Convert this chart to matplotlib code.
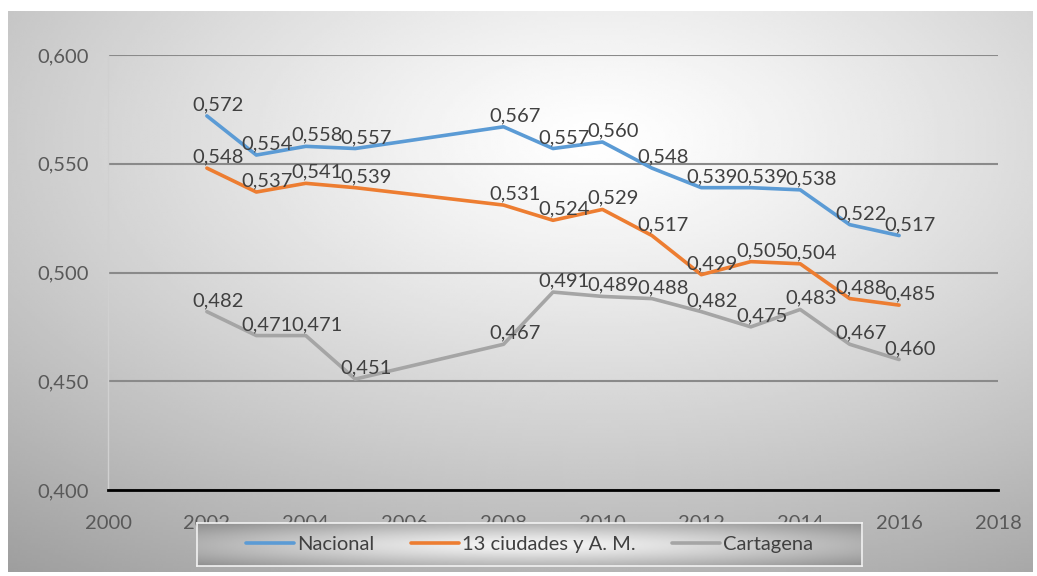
import numpy as np
import matplotlib
matplotlib.use("Agg")
import matplotlib.pyplot as plt

years = [2002, 2003, 2004, 2005, 2008, 2009, 2010, 2011, 2012, 2013, 2014, 2015, 2016]
nacional = [0.572, 0.554, 0.558, 0.557, 0.567, 0.557, 0.560, 0.548, 0.539, 0.539, 0.538, 0.522, 0.517]
ciudades = [0.548, 0.537, 0.541, 0.539, 0.531, 0.524, 0.529, 0.517, 0.499, 0.505, 0.504, 0.488, 0.485]
cartagena = [0.482, 0.471, 0.471, 0.451, 0.467, 0.491, 0.489, 0.488, 0.482, 0.475, 0.483, 0.467, 0.460]
series_names = ["Nacional", "13 ciudades y A. M.", "Cartagena"]
colors = ["#5B9BD5", "#ED7D31", "#A5A5A5"]

plt.rcParams["font.family"] = ["Lato", "DejaVu Sans"]

fig = plt.figure(figsize=(10.37, 5.76), dpi=100, facecolor="white")


def radial(w, h, cx, cy, lo, hi):
    yy, xx = np.mgrid[0:h, 0:w]
    d = np.sqrt(((xx - cx) / w) ** 2 + ((yy - cy) / h) ** 2)
    d = d / d.max()
    return hi - (hi - lo) * d ** 1.2


# chart background with radial gradient
bg = fig.add_axes([8 / 1037, 4 / 576, 1025 / 1037, 561 / 576], zorder=-2)
bg.imshow(radial(400, 220, 230, 50, 0.62, 1.0), cmap="gray", vmin=0, vmax=1,
          aspect="auto", interpolation="bilinear")
bg.axis("off")

ax = fig.add_axes([108 / 1037, 1 - 490 / 576, 890 / 1037, 435 / 576])
ax.patch.set_alpha(0)

for vals, name, c in zip([nacional, ciudades, cartagena], series_names, colors):
    ax.plot(years, vals, color=c, lw=2.6, label=name, solid_capstyle="round")
    for x, v in zip(years, vals):
        ax.annotate(f"{v:.3f}".replace(".", ","), (x, v), xytext=(8, 8),
                    textcoords="offset points", ha="center", va="center",
                    fontsize=14.5, color="#404040")

ax.set_xlim(2000, 2018)
ax.set_ylim(0.4, 0.6)
ax.set_xticks(range(2000, 2019, 2))
ax.set_yticks([0.40, 0.45, 0.50, 0.55, 0.60])
ax.set_yticklabels(["0,400", "0,450", "0,500", "0,550", "0,600"])
ax.tick_params(axis="both", length=0, labelsize=14.5, labelcolor="#595959")
ax.tick_params(axis="x", pad=18)
ax.tick_params(axis="y", pad=14)
ax.grid(axis="y", color="#8a8a8a", lw=1.5)
for s in ["top", "right"]:
    ax.spines[s].set_visible(False)
ax.spines["left"].set_color("#d0d0d0")
ax.spines["left"].set_linewidth(1)
ax.spines["bottom"].set_color("black")
ax.spines["bottom"].set_linewidth(2)

# legend box with its own gradient
lg = fig.add_axes([197 / 1037, 1 - 566 / 576, 665 / 1037, 43 / 576], zorder=1)
lg.imshow(radial(300, 40, 150, 20, 0.55, 0.97), cmap="gray", vmin=0, vmax=1,
          aspect="auto", interpolation="bilinear")
lg.set_xticks([])
lg.set_yticks([])
for s in lg.spines.values():
    s.set_color("#f2f2f2")
    s.set_linewidth(1.2)

handles, labels = ax.get_legend_handles_labels()
fig.legend(handles, labels, loc="center", bbox_to_anchor=(529.5 / 1037, 1 - 544.5 / 576),
           ncol=3, frameon=False, fontsize=14.5, labelcolor="#404040",
           handlelength=2.4, columnspacing=1.8, handletextpad=0.15)

fig.savefig("out.png", dpi=100, facecolor="white")
